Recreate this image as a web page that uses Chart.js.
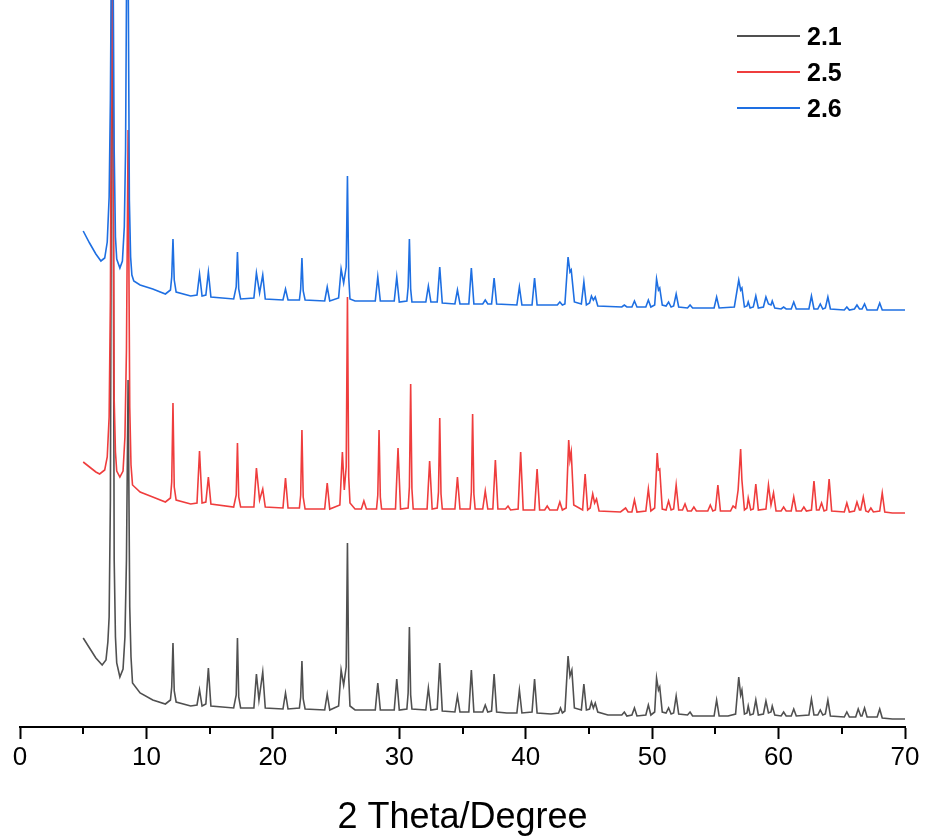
<!DOCTYPE html>
<html>
<head>
<meta charset="utf-8">
<title>2 Theta/Degree</title>
<script src="https://cdn.jsdelivr.net/npm/chart.js@4/dist/chart.umd.min.js"></script>
<style>
  html, body { margin: 0; padding: 0; background: #ffffff; }
  #wrap { width: 925px; height: 836px; }
</style>
</head>
<body>
<div id="wrap"><canvas id="xrd" width="925" height="836"></canvas></div>
<script>
// Powder XRD patterns, [2θ (deg), intensity (a.u., stacked offset)]
const pattern21 = [
  [5.0,89],[5.5,79],[6.0,69],[6.5,62],[6.8,67],[6.95,85],[7.05,110],[7.15,227],[7.3,900],[7.45,167],[7.55,90],[7.65,64],
  [7.9,50],[8.15,58],[8.3,90],[8.42,167],[8.55,347],[8.68,120],[8.78,70],[8.9,44],[9.5,34],[10.5,27],[11.5,23],[11.9,27],
  [12.0,40],[12.1,84],[12.2,36],[12.35,25],[13.5,21],[14.0,22],[14.2,37],[14.4,21],[14.7,23],[14.9,59],[15.1,21],[16.9,19],
  [17.1,32],[17.2,89],[17.3,30],[17.45,19],[18.5,19],[18.7,53],[18.9,27],[19.2,55],[19.4,19],[20.8,18],[21.0,34],[21.2,18],
  [22.1,19],[22.2,30],[22.3,66],[22.4,28],[22.55,18],[24.1,17],[24.3,33],[24.5,17],[25.2,21],[25.4,57],[25.6,42],[25.8,60],[25.9,184],
  [26.0,50],[26.1,21],[26.5,17],[28.1,17],[28.3,44],[28.5,17],[29.6,17],[29.8,48],[30.0,17],[30.6,18],[30.7,34],[30.8,100],
  [30.9,32],[31.0,18],[32.1,17],[32.3,39],[32.5,17],[33.0,18],[33.2,64],[33.4,16],[34.4,15],[34.6,31],[34.8,15],
  [35.5,15],[35.7,57],[35.9,15],[36.6,15],[36.8,22],[37.0,15],[37.3,16],[37.5,53],[37.7,15],[38.5,14],
  [39.3,14],[39.5,37],[39.7,14],[40.5,15],[40.7,48],[40.9,14],[42.0,13],[42.6,14],[42.75,19],[42.9,14],
  [43.1,16],[43.35,71],[43.5,51],[43.65,57],[43.85,19],[44.4,17],[44.6,43],[44.8,17],[45.05,18],[45.2,25],
  [45.35,19],[45.5,24],[45.7,15],[46.5,12],[47.6,12],[47.8,15],[48.0,11],[48.4,12],[48.6,19],[48.8,11],
  [49.5,12],[49.7,22],[49.9,12],[50.2,15],[50.35,49],[50.5,37],[50.6,40],[50.8,15],[51.1,14],[51.3,19],
  [51.5,13],[51.7,14],[51.9,31],[52.1,13],[52.8,12],[53.0,15],[53.2,11],[54.0,11],[54.9,11],[55.1,27],
  [55.3,11],[56.0,11],[56.6,13],[56.85,50],[57.0,32],[57.1,37],[57.3,13],[57.5,14],[57.6,21],[57.75,12],
  [58.0,13],[58.2,27],[58.4,12],[58.8,13],[59.0,26],[59.2,14],[59.4,15],[59.5,21],[59.7,12],[60.2,11],
  [60.4,15],[60.6,11],[61.0,11],[61.2,18],[61.4,11],[62.4,12],[62.6,28],[62.8,12],[63.1,12],[63.3,17],
  [63.5,12],[63.7,13],[63.9,27],[64.1,11],[65.2,10],[65.4,15],[65.6,10],[66.1,10],[66.3,18],[66.5,11],
  [66.6,11],[66.8,19],[67.0,10],[67.8,10],[68.0,18],[68.2,9],[69.0,8],[70.0,8]
];

const pattern25 = [
  [5.0,265],[5.5,260],[6.0,255],[6.3,253],[6.7,257],[6.9,270],[7.05,310],[7.15,427],[7.3,900],[7.45,327],[7.55,275],[7.65,256],
  [7.9,250],[8.15,256],[8.3,290],[8.42,377],[8.55,597],[8.68,320],[8.78,262],[8.9,242],[9.5,235],[10.5,230],[11.5,225],[11.9,229],
  [12.0,245],[12.1,324],[12.2,240],[12.35,227],[13.5,223],[14.0,224],[14.2,276],[14.4,224],[14.7,225],[14.9,250],[15.1,223],[16.9,220],
  [17.1,232],[17.2,284],[17.3,230],[17.45,220],[18.5,220],[18.7,259],[18.95,227],[19.2,238],[19.4,220],[20.8,219],[21.0,249],[21.2,219],
  [22.1,219],[22.2,232],[22.3,297],[22.4,230],[22.55,218],[24.1,218],[24.3,244],[24.5,218],[25.3,222],[25.5,275],[25.65,237],[25.8,260],[25.9,430],
  [26.0,250],[26.1,224],[26.5,218],[27.0,218],[27.2,226],[27.4,218],[28.2,218],[28.3,232],[28.4,297],[28.5,230],[28.6,218],[29.7,218],[29.9,279],
  [30.1,218],[30.7,219],[30.8,240],[30.9,343],[31.0,238],[31.1,218],[32.2,218],[32.4,266],[32.6,218],[33.0,219],[33.1,235],[33.2,309],[33.3,233],[33.4,218],
  [34.4,218],[34.6,250],[34.8,218],[35.6,218],[35.7,235],[35.8,313],[35.9,233],[36.0,218],[36.6,218],[36.8,236],[37.0,218],[37.4,218],
  [37.6,267],[37.8,218],[38.4,218],[38.6,221],[38.8,217],[39.4,218],[39.6,275],[39.8,217],[40.7,217],[40.9,258],
  [41.1,217],[41.5,217],[41.7,221],[41.9,217],[42.5,217],[42.7,225],[42.9,217],[43.2,219],[43.4,287],[43.5,267],
  [43.6,275],[43.8,222],[44.5,217],[44.7,253],[44.9,217],[45.1,219],[45.3,233],[45.45,224],[45.6,228],[45.8,216],
  [47.5,215],[47.9,219],[48.1,215],[48.4,215],[48.6,227],[48.8,215],[49.5,216],[49.7,238],[49.9,216],[50.2,219],
  [50.4,274],[50.5,257],[50.6,258],[50.8,218],[51.1,217],[51.3,226],[51.5,217],[51.7,218],[51.9,242],[52.1,217],
  [52.4,217],[52.6,223],[52.8,216],[53.1,216],[53.3,220],[53.5,216],[54.4,216],[54.6,222],[54.8,216],[55.0,217],
  [55.2,242],[55.4,216],[56.2,216],[56.4,221],[56.6,219],[56.8,237],[57.0,278],[57.1,247],[57.3,217],[57.5,219],
  [57.6,229],[57.8,217],[58.0,218],[58.2,243],[58.4,217],[59.0,218],[59.2,242],[59.4,222],[59.6,234],[59.8,216],
  [60.2,216],[60.4,220],[60.6,216],[61.0,216],[61.2,230],[61.4,216],[61.8,216],[62.0,220],[62.2,216],[62.6,217],
  [62.8,246],[63.0,217],[63.2,217],[63.4,224],[63.6,216],[63.8,217],[64.0,248],[64.2,216],[65.2,215],[65.4,224],
  [65.6,215],[66.0,216],[66.2,225],[66.4,217],[66.5,217],[66.7,230],[66.9,216],[67.1,215],[67.3,219],[67.5,215],
  [68.0,216],[68.2,234],[68.4,215],[69.0,214],[70.0,214]
];

const pattern26 = [
  [5.0,496],[5.5,484],[6.0,473],[6.4,466],[6.7,469],[6.9,485],[7.05,530],[7.15,627],[7.3,900],[7.45,577],[7.55,490],[7.65,468],
  [7.9,459],[8.1,466],[8.25,500],[8.35,577],[8.5,900],[8.65,527],[8.75,470],[8.85,452],[9.0,446],[9.5,442],[10.5,438],[11.5,433],
  [11.9,437],[12.0,450],[12.1,488],[12.2,447],[12.35,435],[13.5,431],[14.0,432],[14.2,453],[14.4,431],[14.7,432],[14.9,455],[15.1,430],
  [16.9,428],[17.1,440],[17.2,475],[17.3,438],[17.45,428],[18.5,429],[18.7,454],[18.95,434],[19.2,452],[19.4,428],[20.8,427],[21.0,438],
  [21.2,427],[22.1,427],[22.2,438],[22.3,469],[22.4,436],[22.55,427],[24.1,426],[24.3,440],[24.5,426],[25.2,429],[25.4,458],[25.6,444],[25.8,460],
  [25.9,551],[26.0,450],[26.1,428],[26.5,426],[28.1,426],[28.3,450],[28.5,426],[29.6,426],[29.8,450],[30.0,425],[30.6,426],
  [30.7,440],[30.8,488],[30.9,438],[31.0,425],[32.1,425],[32.3,441],[32.5,425],[33.0,425],[33.2,460],[33.4,424],[34.4,423],[34.6,437],
  [34.8,423],[35.5,423],[35.7,459],[35.9,423],[36.6,423],[36.8,427],[37.0,423],[37.3,423],[37.5,449],[37.7,423],
  [39.3,422],[39.5,440],[39.7,422],[40.5,422],[40.7,449],[40.9,422],[42.5,422],[42.7,425],[42.9,422],[43.1,423],
  [43.35,470],[43.5,455],[43.6,457],[43.85,425],[44.4,423],[44.6,445],[44.8,422],[45.05,424],[45.2,431],[45.35,427],
  [45.5,430],[45.7,421],[47.6,420],[47.8,422],[48.0,420],[48.4,420],[48.6,426],[48.8,420],[49.5,420],[49.7,427],
  [49.9,420],[50.2,422],[50.35,448],[50.5,437],[50.6,439],[50.8,422],[51.1,421],[51.3,425],[51.5,420],[51.7,421],
  [51.9,433],[52.1,420],[52.8,419],[53.0,422],[53.2,419],[54.0,419],[54.9,419],[55.1,430],[55.3,419],[56.5,420],
  [56.85,447],[57.0,437],[57.1,439],[57.3,420],[57.5,421],[57.6,425],[57.75,419],[58.0,420],[58.2,431],[58.4,419],
  [58.8,420],[59.0,430],[59.2,423],[59.4,422],[59.5,426],[59.7,419],[60.2,418],[60.4,420],[60.6,418],[61.0,418],
  [61.2,425],[61.4,418],[62.4,418],[62.6,431],[62.8,418],[63.1,418],[63.3,423],[63.5,418],[63.7,419],[63.9,430],
  [64.1,418],[65.2,417],[65.4,420],[65.6,417],[66.0,418],[66.2,422],[66.4,418],[66.6,418],[66.8,423],[67.0,417],
  [67.8,417],[68.0,424],[68.2,417],[69.0,417],[70.0,417]
];

const sampleNames = ['2.1', '2.5', '2.6'];
const sampleColors = ['#505050', '#ef3d3d', '#1e6fe2'];
const xTicks = [0, 10, 20, 30, 40, 50, 60, 70];
const xMinorTicks = [5, 15, 25, 35, 45, 55, 65];
const axisTitle = '2 Theta/Degree';

const FONT = "'Liberation Sans', Arial, sans-serif";

const toPoints = (rows) => rows.map(([x, y]) => ({ x, y }));

// short minor ticks between the labelled ones
const minorTicks = {
  id: 'minorTicks',
  afterDraw(chart) {
    const sx = chart.scales.x;
    const ctx = chart.ctx;
    const y0 = chart.chartArea.bottom;
    ctx.save();
    ctx.strokeStyle = '#000';
    ctx.lineWidth = 2;
    ctx.beginPath();
    xMinorTicks.forEach(v => {
      const px = Math.round(sx.getPixelForValue(v));
      ctx.moveTo(px, y0);
      ctx.lineTo(px, y0 + 7);
    });
    ctx.stroke();
    ctx.restore();
  }
};

// line-sample legend in the upper right corner
const sampleLegend = {
  id: 'sampleLegend',
  afterDraw(chart) {
    const ctx = chart.ctx;
    ctx.save();
    ctx.font = "bold 25px " + FONT;
    ctx.textBaseline = 'middle';
    ctx.textAlign = 'left';
    chart.data.datasets.forEach((ds, i) => {
      const y = 36 + i * 36;
      ctx.strokeStyle = ds.borderColor;
      ctx.lineWidth = 2;
      ctx.beginPath();
      ctx.moveTo(737, y);
      ctx.lineTo(800, y);
      ctx.stroke();
      ctx.fillStyle = '#000';
      ctx.fillText(ds.label, 807, y + 2);
    });
    ctx.restore();
  }
};

const series = [pattern21, pattern25, pattern26];

new Chart(document.getElementById('xrd'), {
  type: 'line',
  data: {
    datasets: series.map((rows, i) => ({
      label: sampleNames[i],
      data: toPoints(rows),
      borderColor: sampleColors[i],
      borderWidth: 1.6,
      pointRadius: 0,
      tension: 0,
      fill: false,
      order: series.length - 1 - i
    }))
  },
  options: {
    responsive: false,
    animation: false,
    events: [],
    layout: { padding: { left: 20, right: 20, top: 0, bottom: 0 } },
    plugins: {
      legend: { display: false },
      tooltip: { enabled: false }
    },
    scales: {
      x: {
        type: 'linear',
        min: 0,
        max: 70,
        afterBuildTicks: (scale) => { scale.ticks = xTicks.map(v => ({ value: v })); },
        afterFit: (scale) => { scale.height = 109; },
        border: { display: true, color: '#000', width: 2 },
        grid: {
          display: true,
          drawOnChartArea: false,
          drawTicks: true,
          tickLength: 12,
          tickWidth: 2,
          tickColor: '#000'
        },
        ticks: {
          color: '#000',
          padding: 3,
          maxRotation: 0,
          font: { family: FONT, size: 26 }
        },
        title: {
          display: true,
          text: axisTitle,
          color: '#000',
          padding: { top: 0, bottom: 0 },
          font: { family: FONT, size: 36, lineHeight: 1 }
        }
      },
      y: {
        display: false,
        min: 0,
        max: 727
      }
    }
  },
  plugins: [minorTicks, sampleLegend]
});
</script>
</body>
</html>
